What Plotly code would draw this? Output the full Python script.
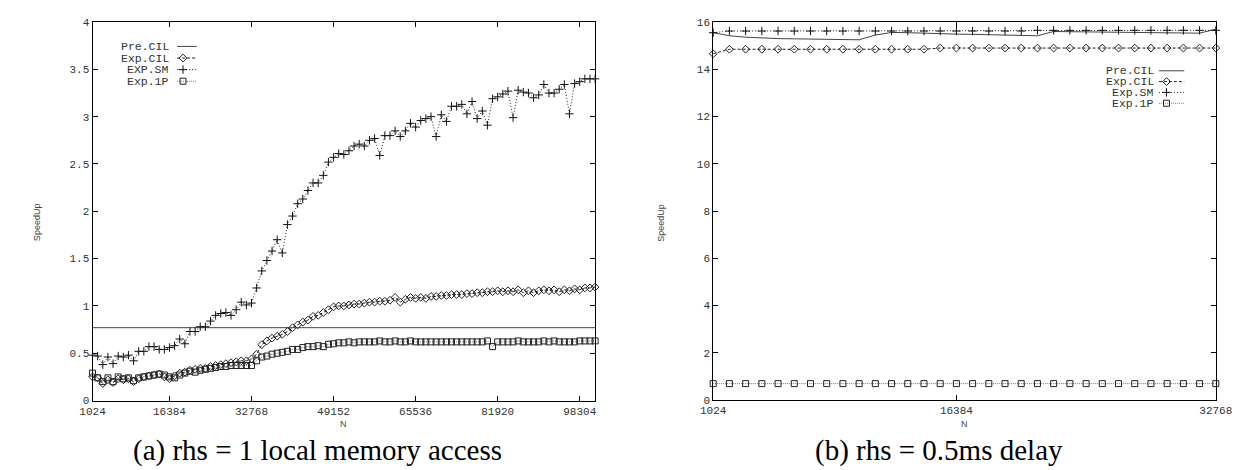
import plotly.graph_objects as go

W, H = 1245, 470

# ---------------- data: panel (a) ----------------
n_a = list(range(1024, 101376 + 1, 1024))
pre_cil_a = [0.77] * len(n_a)
exp_cil_a = [0.25, 0.24, 0.18, 0.22, 0.19, 0.23, 0.22, 0.23, 0.20, 0.23,
             0.25, 0.26, 0.27, 0.28, 0.25, 0.23, 0.26, 0.29, 0.30, 0.32,
             0.33, 0.34, 0.34, 0.36, 0.37, 0.38, 0.39, 0.40, 0.41, 0.42,
             0.42, 0.44, 0.49, 0.59, 0.63, 0.66, 0.68, 0.70, 0.73, 0.77,
             0.80, 0.83, 0.85, 0.89, 0.90, 0.93, 0.96, 0.99, 1.00, 1.00,
             1.01, 1.02, 1.02, 1.03, 1.04, 1.04, 1.05, 1.05, 1.06, 1.09,
             1.04, 1.07, 1.09, 1.08, 1.09, 1.08, 1.10, 1.10, 1.11, 1.11,
             1.12, 1.12, 1.12, 1.13, 1.13, 1.14, 1.14, 1.15, 1.15, 1.16,
             1.15, 1.16, 1.15, 1.17, 1.14, 1.16, 1.14, 1.16, 1.17, 1.16,
             1.17, 1.15, 1.17, 1.16, 1.18, 1.17, 1.19, 1.19, 1.20]
exp_sm_a = [0.48, 0.47, 0.38, 0.46, 0.39, 0.47, 0.46, 0.48, 0.42, 0.52,
            0.52, 0.57, 0.57, 0.54, 0.54, 0.56, 0.58, 0.65, 0.60, 0.73,
            0.73, 0.78, 0.78, 0.84, 0.90, 0.92, 0.93, 0.90, 0.96, 1.04,
            1.01, 1.03, 1.19, 1.37, 1.48, 1.58, 1.70, 1.56, 1.86, 1.95,
            2.08, 2.13, 2.22, 2.30, 2.30, 2.38, 2.52, 2.57, 2.61, 2.60,
            2.64, 2.69, 2.71, 2.69, 2.75, 2.77, 2.59, 2.80, 2.80, 2.85,
            2.79, 2.85, 2.93, 2.89, 2.96, 2.98, 3.00, 2.79, 3.02, 2.95,
            3.11, 3.11, 3.13, 3.03, 3.16, 2.98, 3.06, 2.91, 3.19, 3.21,
            3.24, 3.27, 2.99, 3.28, 3.26, 3.25, 3.20, 3.23, 3.34, 3.25,
            3.25, 3.29, 3.34, 3.03, 3.35, 3.37, 3.40, 3.40, 3.40]
exp_1p_a = [0.29, 0.24, 0.20, 0.24, 0.20, 0.25, 0.23, 0.24, 0.21, 0.24,
            0.25, 0.26, 0.27, 0.28, 0.27, 0.25, 0.24, 0.27, 0.29, 0.31,
            0.30, 0.32, 0.33, 0.34, 0.35, 0.36, 0.36, 0.37, 0.37, 0.37,
            0.37, 0.37, 0.42, 0.46, 0.47, 0.49, 0.50, 0.51, 0.52, 0.54,
            0.54, 0.56, 0.57, 0.57, 0.58, 0.57, 0.595, 0.60, 0.61, 0.61,
            0.62, 0.61, 0.62, 0.62, 0.62, 0.62, 0.63, 0.62, 0.62, 0.63,
            0.62, 0.62, 0.63, 0.62, 0.62, 0.62, 0.62, 0.62, 0.62, 0.62,
            0.62, 0.62, 0.62, 0.62, 0.62, 0.62, 0.62, 0.63, 0.57, 0.62,
            0.62, 0.62, 0.62, 0.63, 0.62, 0.62, 0.62, 0.62, 0.63, 0.62,
            0.63, 0.62, 0.62, 0.62, 0.62, 0.63, 0.63, 0.63, 0.63]
ticks_a = [1024, 16384, 32768, 49152, 65536, 81920, 98304]

# ---------------- data: panel (b) ----------------
n_b = list(range(1024, 32768 + 1, 1024))
pre_cil_b = [15.55, 15.42, 15.36, 15.32, 15.30, 15.29, 15.28, 15.27, 15.26, 15.25,
             15.45, 15.56, 15.55, 15.52, 15.50, 15.49, 15.48, 15.47, 15.46, 15.44,
             15.42, 15.60, 15.59, 15.58, 15.58, 15.57, 15.56, 15.56, 15.55, 15.54,
             15.53, 15.70]
exp_cil_b = [14.66] + [14.85] * 13 + [14.9] * 18
exp_sm_b = [15.55] + [15.62] * 19 + [15.65] * 12
exp_1p_b = [0.70] * 32
ticks_b = [1024, 16384, 32768]

labels_a = ["Pre.CIL", "Exp.CIL", "EXP.SM", "Exp.1P"]
labels_b = ["Pre.CIL", "Exp.CIL", "Exp.SM", "Exp.1P"]

# ---------------- styles ----------------
STY = [
    dict(line=dict(color="#444", width=1, dash="solid"), mode="lines", marker=None),
    dict(line=dict(color="#222", width=1, dash="3px,2px"), mode="lines+markers",
         marker=dict(symbol="diamond-open", size=6, color="#222", line=dict(width=1, color="#222"))),
    dict(line=dict(color="#222", width=1, dash="1px,2px"), mode="lines+markers",
         marker=dict(symbol="cross-thin-open", size=6, color="#111", line=dict(width=1, color="#111"))),
    dict(line=dict(color="#777", width=1, dash="1px,1px"), mode="lines+markers",
         marker=dict(symbol="square-open", size=6, color="#222", line=dict(width=1, color="#222"))),
]

fig = go.Figure()

def add_series(x, ys, xa, ya):
    for s, y in zip(STY, ys):
        kw = dict(x=x, y=y, mode=s["mode"], line=s["line"], xaxis=xa, yaxis=ya,
                  showlegend=False, cliponaxis=False, hoverinfo="skip")
        if s["marker"]:
            kw["marker"] = s["marker"]
        fig.add_trace(go.Scatter(**kw))

add_series(n_a, [pre_cil_a, exp_cil_a, exp_sm_a, exp_1p_a], "x", "y")
add_series(n_b, [pre_cil_b, exp_cil_b, exp_sm_b, exp_1p_b], "x2", "y2")

# ---------------- custom gnuplot-style keys (pixel overlay axis) ----------------
def add_key(labels, text_right, y0, dy, s0, s1):
    for i, (lab, s) in enumerate(zip(labels, STY)):
        yy = y0 + i * dy
        fig.add_trace(go.Scatter(x=[s0, s1], y=[yy, yy], mode="lines", line=s["line"],
                                 xaxis="x3", yaxis="y3", showlegend=False, hoverinfo="skip"))
        if s["marker"]:
            fig.add_trace(go.Scatter(x=[s0 + (s1 - s0) * 0.3], y=[yy], mode="markers",
                                     marker=s["marker"], xaxis="x3", yaxis="y3",
                                     showlegend=False, hoverinfo="skip", cliponaxis=False))
        fig.add_annotation(x=text_right, y=yy, xref="x3", yref="y3", text=lab,
                           showarrow=False, xanchor="right", yanchor="middle",
                           font=dict(family="Liberation Mono", size=11.5, color="#333"))

add_key(labels_a, 154, 34.3, 11.9, 160, 180)
add_key(labels_b, 1163, 59.3, 11.1, 1166, 1192)

def px_x(p):
    return p / W

def px_y(p):
    return 1 - p / H

tickfont = dict(family="Liberation Mono", size=11, color="#333")
common = dict(showline=True, linecolor="black", linewidth=1, mirror="ticks",
              ticks="inside", ticklen=5, tickcolor="black", tickwidth=1,
              showgrid=False, zeroline=False, tickfont=tickfont)

fig.update_layout(
    width=W, height=H, margin=dict(l=0, r=0, t=0, b=0),
    paper_bgcolor="white", plot_bgcolor="rgba(0,0,0,0)", showlegend=False,
    xaxis=dict(domain=[px_x(73.3), px_x(588.3)], range=[1024, 101376],
               tickvals=ticks_a, ticktext=[str(t) for t in ticks_a], anchor="y", **common),
    yaxis=dict(domain=[px_y(397.7), px_y(9.3)], range=[0, 4], dtick=0.5, tick0=0,
               anchor="x", **common),
    xaxis2=dict(domain=[px_x(709.3), px_x(1224.3)], range=[1024, 32768],
                tickvals=ticks_b, ticktext=[str(t) for t in ticks_b], anchor="y2", **common),
    yaxis2=dict(domain=[px_y(397.3), px_y(9.3)], range=[0, 16], dtick=2, tick0=0,
                anchor="x2", **common),
    xaxis3=dict(domain=[0, 1], range=[0, W], visible=False, anchor="y3"),
    yaxis3=dict(domain=[0, 1], range=[H, 0], visible=False, anchor="x3"),
)

def note(x, y, text, font, angle=0):
    fig.add_annotation(x=px_x(x), y=px_y(y), xref="paper", yref="paper", text=text,
                       textangle=angle, showarrow=False, font=font,
                       xanchor="center", yanchor="middle")

# axis titles
small = dict(family="Liberation Sans", size=9, color="#444")
note(16, 215, "SpeedUp", small, -90)
note(655, 215, "SpeedUp", small, -90)
note(330.8, 422, "N", small)
note(966.8, 422, "N", small)

# captions
cap = dict(family="Liberation Serif", size=29, color="black")
note(304, 449, "(a) rhs = 1 local memory access", cap)
note(941, 449, "(b) rhs = 0.5ms delay", cap)

fig.write_html("out.html")
